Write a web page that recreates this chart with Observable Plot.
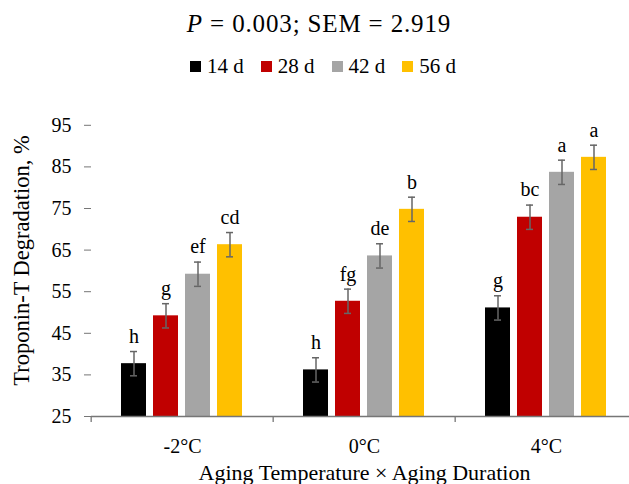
<!DOCTYPE html>
<html>
<head>
<meta charset="utf-8">
<script src="https://cdn.jsdelivr.net/npm/d3@7"></script>
<script src="https://cdn.jsdelivr.net/npm/@observablehq/plot@0.6"></script>
<style>
  html, body { margin: 0; padding: 0; background: #fff; overflow: hidden; }
  #wrap { position: relative; width: 638px; font-family: "Liberation Serif", "Times New Roman", serif; color: #000; }
  #header { position: relative; width: 638px; height: 86px; }
  #title { position: absolute; left: 0; width: 638px; top: 9.8px; line-height: 28px; font-size: 25px; letter-spacing: 0.85px; text-align: center; white-space: nowrap; }
  #legend { position: absolute; left: 190px; top: 54.2px; display: flex; align-items: center; font-size: 21px; line-height: 24px; white-space: nowrap; }
  .sw { width: 11px; height: 11px; margin-right: 6px; }
  .item { display: flex; align-items: center; margin-right: 17px; }
  svg { display: block; }
</style>
</head>
<body>
<div id="wrap">
  <div id="header">
    <div id="title"></div>
    <div id="legend"></div>
  </div>
  <div id="chart"></div>
</div>
<script>
// ---- data ----
const temps = ["-2°C", "0°C", "4°C"];
const durations = ["14 d", "28 d", "42 d", "56 d"];
const colors = ["#000000", "#C00000", "#A5A5A5", "#FFC000"];
const valuesMinus2 = [37.7, 49.2, 59.2, 66.3];
const valuesZero = [36.2, 52.7, 63.6, 74.8];
const valuesFour = [51.1, 72.9, 83.7, 87.3];
const lettersMinus2 = ["h", "g", "ef", "cd"];
const lettersZero = ["h", "fg", "de", "b"];
const lettersFour = ["g", "bc", "a", "a"];
const sem = 2.919;
const pValue = "0.003";
const yTicks = [25, 35, 45, 55, 65, 75, 85, 95];
const yDomain = [25, 100];
const xTitle = "Aging Temperature × Aging Duration";
const yTitle = "Troponin-T Degradation, %";

// ---- table ----
const valueSets = [valuesMinus2, valuesZero, valuesFour];
const letterSets = [lettersMinus2, lettersZero, lettersFour];
const rows = [];
temps.forEach((t, i) => durations.forEach((d, j) => {
  rows.push({temp: t, dur: d, value: valueSets[i][j], letter: letterSets[i][j]});
}));

// ---- header ----
document.getElementById("title").innerHTML = `<i>P</i> = ${pValue}; SEM = ${sem}`;
const legend = document.getElementById("legend");
durations.forEach((d, j) => {
  const it = document.createElement("div");
  it.className = "item";
  it.innerHTML = `<div class="sw" style="background:${colors[j]}"></div><span>${d}</span>`;
  legend.appendChild(it);
});

// ---- chart ----
const W = 638, ML = 90, MR = 0;
const groupHalf = (W - ML - MR) / temps.length / 2;
const axisColor = "#767676";
const errColor = "#666666";

const chart = Plot.plot({
  width: W,
  height: 398,
  marginTop: 18,
  marginBottom: 68,
  marginLeft: ML,
  marginRight: MR,
  style: {fontFamily: "Liberation Serif, Times New Roman, serif", fontSize: "20px", color: "#000", background: "#fff"},
  fx: {domain: temps, padding: 0, label: null},
  x: {domain: durations, paddingInner: 0.212, paddingOuter: 0.868, axis: null},
  y: {domain: yDomain, axis: null},
  color: {domain: durations, range: colors},
  marks: [
    Plot.barY(rows, {fx: "temp", x: "dur", y1: yDomain[0], y2: "value", fill: "dur"}),
    Plot.ruleX(rows, {fx: "temp", x: "dur", y1: d => d.value - sem, y2: d => d.value + sem, stroke: errColor, strokeWidth: 1.5}),
    Plot.tickY(rows, {fx: "temp", x: "dur", y: d => d.value + sem, inset: 9, stroke: errColor, strokeWidth: 1.5}),
    Plot.tickY(rows, {fx: "temp", x: "dur", y: d => d.value - sem, inset: 9, stroke: errColor, strokeWidth: 1.5}),
    Plot.text(rows, {fx: "temp", x: "dur", y: d => d.value + sem, text: "letter", dy: -15, fontSize: 20, fill: "#000"}),
    // axis lines
    Plot.ruleY([yDomain[0]], {stroke: axisColor, strokeWidth: 1.3}),
    Plot.ruleX([temps[0]], {fx: d => d, dx: -groupHalf, stroke: axisColor, strokeWidth: 1.3}),
    // y axis ticks + labels
    Plot.axisY({ticks: yTicks, tickSize: 7, tickPadding: 13, stroke: axisColor, fill: "#000", fontSize: 20, label: null}),
    // y axis title
    Plot.axisY({ticks: yTicks, tickSize: 0, tickFormat: () => "", fontSize: 22.5, fill: "#000",
      label: yTitle, labelAnchor: "center", labelOffset: 78, labelArrow: "none"}),
    // category labels
    Plot.axisFx({anchor: "bottom", tickSize: 0, tickPadding: 22, fontSize: 20, fill: "#000", label: null}),
    // x title
    Plot.axisFx({anchor: "bottom", tickSize: 0, tickFormat: () => "", fontSize: 22, fill: "#000",
      label: xTitle, labelAnchor: "center", labelOffset: 63, labelArrow: "none"}),
    // boundary ticks between categories
    Plot.axisFx({anchor: "bottom", tickSize: 6, tickFormat: () => "", label: null, dx: -groupHalf, stroke: axisColor, strokeWidth: 1.3})
  ]
});
document.getElementById("chart").appendChild(chart);
</script>
</body>
</html>
